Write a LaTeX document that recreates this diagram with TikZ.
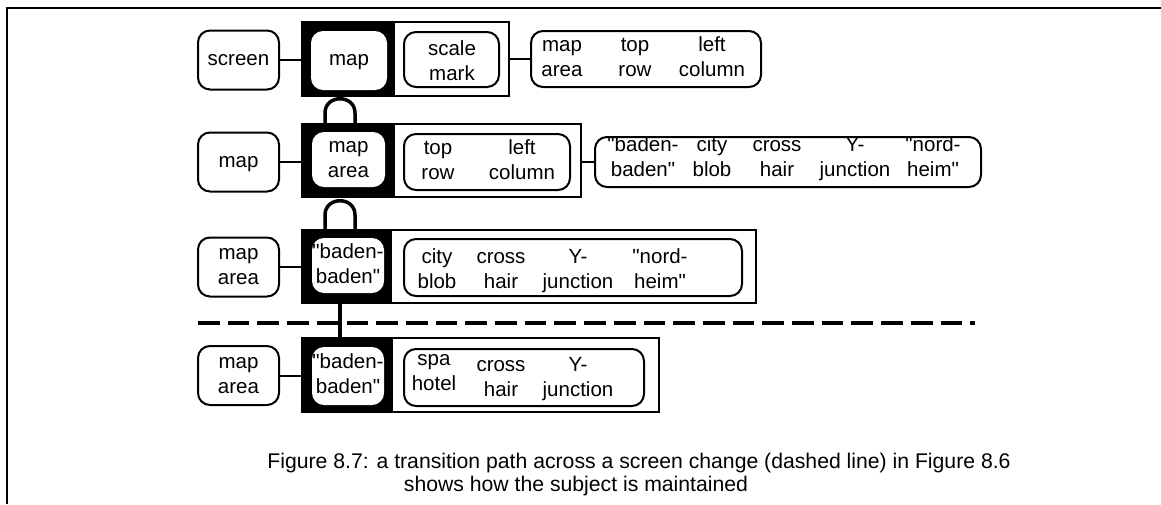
\documentclass[tikz,border=0pt]{standalone}
\usepackage{fontspec}
\setmainfont{Liberation Sans}[Ligatures=TeXOff]
\newcommand{\diagfont}{\fontsize{20.5}{25}\selectfont}
\newcommand{\capfont}{\fontsize{21.2}{22}\selectfont}
\newcommand{\twol}[2]{\strut#1\\\strut#2}
\newcommand{\onel}[1]{\strut#1}
\begin{document}
\begin{tikzpicture}[x=1pt,y=-1pt,
 rbox/.style={draw, line width=2pt, rounded corners=12pt, inner sep=0pt, align=center, font=\diagfont},
 obox/.style={draw, line width=2pt, inner sep=0pt},
 ibox/.style={fill=white, rounded corners=12pt, inner sep=0pt, align=center, font=\diagfont},
 lbl/.style={inner sep=0pt, align=center, font=\diagfont},
 conn/.style={line width=2pt},
 arch/.style={line width=3.5pt},
 captext/.style={inner sep=0pt, anchor=base, font=\capfont},
]
\useasboundingbox (0,0) rectangle (1161,504);
% frame
\draw[line width=2pt] (1161,8) -- (7,8) -- (7,504);

% ---------- row 1 ----------
\node[rbox, minimum width=81pt, minimum height=59pt] (l1) at (238.5,60) {\onel{screen}};
\fill (301,22) rectangle (395,96);
\node[obox, minimum width=207pt, minimum height=74pt, anchor=west] (o1) at (301,59) {};
\node[ibox, minimum width=76pt, minimum height=59pt] (i1) at (349,60.5) {\onel{map}};
\node[rbox, minimum width=95pt, minimum height=55pt] (m1) at (451.5,59.5) {};
\node[lbl] at (452,62.5) {\twol{scale}{mark}};
\node[rbox, minimum width=230pt, minimum height=56pt] (r1) at (646,59) {};
\node[lbl] at (562,59) {\twol{map}{area}};
\node[lbl] at (635,59) {\twol{top}{row}};
\node[lbl] at (712,59) {\twol{left}{column}};
\draw[conn] (l1.east) -- (l1.east -| o1.west);
\draw[conn] (o1.east) -- (o1.east -| r1.west);

% ---------- row 2 ----------
\node[rbox, minimum width=81pt, minimum height=59pt] (l2) at (238.5,162) {\onel{map}};
\fill (301,124) rectangle (395,197);
\node[obox, minimum width=279pt, minimum height=73pt, anchor=west] (o2) at (301,160.5) {};
\node[ibox, minimum width=73pt, minimum height=55pt] (i2) at (348.5,159.5) {\twol{map}{area}};
\node[rbox, minimum width=166pt, minimum height=56pt] (m2) at (487,162) {};
\node[lbl] at (438,162) {\twol{top}{row}};
\node[lbl] at (522,162) {\twol{left}{column}};
\node[rbox, minimum width=386pt, minimum height=50pt] (r2) at (788,162) {};
\node[lbl] at (643,159) {\twol{"baden-}{baden"}};
\node[lbl] at (712,159) {\twol{city}{blob}};
\node[lbl] at (777,159) {\twol{cross}{hair}};
\node[lbl] at (855,159) {\twol{Y-}{junction}};
\node[lbl] at (933,159) {\twol{"nord-}{heim"}};
\draw[conn] (l2.east) -- (l2.east -| o2.west);
\draw[conn] (o2.east |- r2.west) -- (r2.west);

% ---------- row 3 ----------
\node[rbox, minimum width=81pt, minimum height=59pt] (l3) at (238.5,267) {\twol{map}{area}};
\fill (301,230) rectangle (392,303);
\node[obox, minimum width=454pt, minimum height=73pt, anchor=west] (o3) at (301,266.5) {};
\node[ibox, minimum width=72pt, minimum height=55pt] (i3) at (348,265.5) {\twol{"baden-}{baden"}};
\node[rbox, minimum width=338pt, minimum height=57pt] (m3) at (573,267.5) {};
\node[lbl] at (437,271) {\twol{city}{blob}};
\node[lbl] at (501,271) {\twol{cross}{hair}};
\node[lbl] at (578,271) {\twol{Y-}{junction}};
\node[lbl] at (660,271) {\twol{"nord-}{heim"}};
\draw[conn] (l3.east) -- (l3.east -| o3.west);

% ---------- row 4 ----------
\node[rbox, minimum width=81pt, minimum height=59pt] (l4) at (238.5,375.5) {\twol{map}{area}};
\fill (301,338) rectangle (393,412);
\node[obox, minimum width=357pt, minimum height=74pt, anchor=west] (o4) at (301,375) {};
\node[ibox, minimum width=72pt, minimum height=58pt] (i4) at (348,376) {\twol{"baden-}{baden"}};
\node[rbox, minimum width=240pt, minimum height=57pt] (m4) at (524,377.5) {};
\node[lbl] at (434,373) {\twol{spa}{hotel}};
\node[lbl] at (501,379) {\twol{cross}{hair}};
\node[lbl] at (578,379) {\twol{Y-}{junction}};
\draw[conn] (l4.east) -- (l4.east -| o4.west);

% ---------- links between rows ----------
\coordinate (a1l) at (325,124);
\coordinate (a1r) at (355,124);
\draw[arch] (a1l) -- (325,113) .. controls (325,94) and (355,94) .. (355,113) -- (a1r);
\coordinate (a2l) at (325,230);
\coordinate (a2r) at (355,230);
\draw[arch] (a2l) -- (325,215) .. controls (325,196) and (355,196) .. (355,215) -- (a2r);
\coordinate (v3) at (340,303);
\coordinate (v4) at (340,338);
\draw[arch] (v3) -- (v4);

% screen change
\coordinate (d0) at (198,323);
\coordinate (d1) at (975,323);
\draw[line width=4pt, dash pattern=on 21.7pt off 8pt] (d0) -- (d1);

% caption
\node[captext] (c1) at (639,468) {Figure 8.7: a transition path across a screen change (dashed line) in Figure~8.6};
\node[captext] (c2) at (576,491) {shows how the subject is maintained};
\end{tikzpicture}
\end{document}
